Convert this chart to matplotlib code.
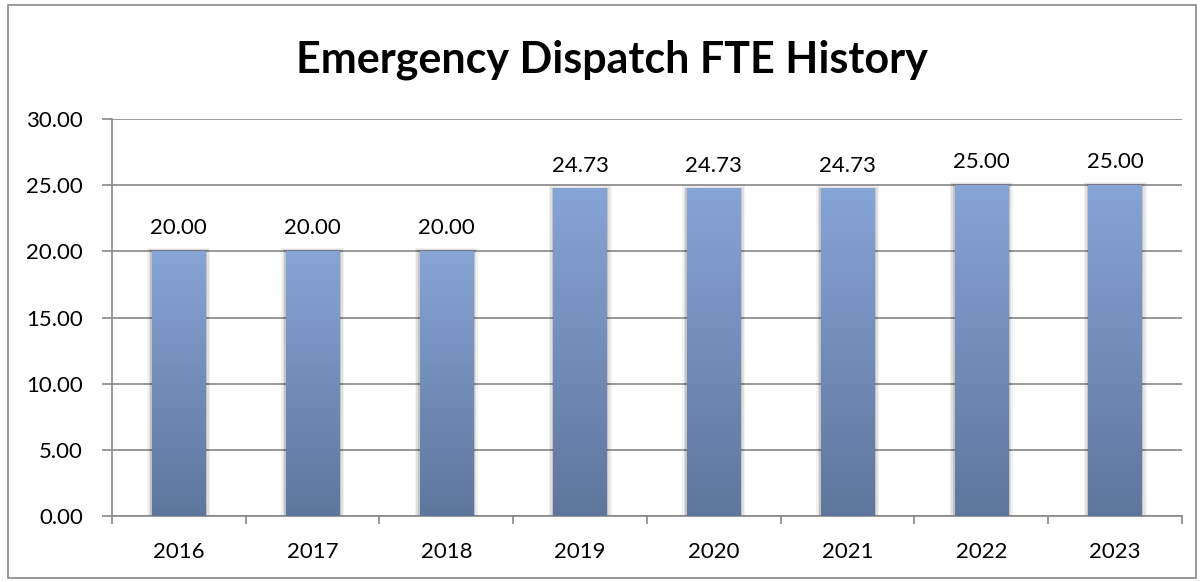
import numpy as np
import matplotlib.pyplot as plt
from matplotlib.patches import Rectangle
from matplotlib.colors import LinearSegmentedColormap

years = ['2016', '2017', '2018', '2019', '2020', '2021', '2022', '2023']
fte = [20.00, 20.00, 20.00, 24.73, 24.73, 24.73, 25.00, 25.00]

plt.rcParams['font.family'] = ['Lato', 'DejaVu Sans']

fig = plt.figure(figsize=(12.04, 5.82), dpi=100)
ax = fig.add_axes([0.093, 0.1134, 0.8887, 0.6821])

x = np.arange(len(years))
width = 0.4
bars = ax.bar(x, fte, width=width, color='none', zorder=3)

# vertical gradient fill for each bar
cmap = LinearSegmentedColormap.from_list('bar', ['#5f769c', '#87a4d7'])
grad = np.linspace(0, 1, 256).reshape(-1, 1)
for b in bars:
    x0, h = b.get_x(), b.get_height()
    # soft shadow around bar
    for i, a in enumerate([0.05, 0.08, 0.12]):
        pad = 0.012 * (3 - i)
        ax.add_patch(Rectangle((x0 - pad, 0), width + 2 * pad, h + 0.25 * (3 - i) / 3,
                               facecolor='#000000', alpha=a, edgecolor='none', zorder=2))
    ax.imshow(grad, extent=[x0, x0 + width, 0, h], origin='lower', cmap=cmap,
              aspect='auto', zorder=3)
    ax.text(b.get_x() + width / 2, h + 1.0, f'{h:.2f}', ha='center', va='bottom',
            fontsize=16, color='black', zorder=4)

ax.set_xlim(-0.5, len(years) - 0.5)
ax.set_ylim(0, 30)
ax.set_yticks(np.arange(0, 31, 5))
ax.set_yticklabels([f'{v:.2f}' for v in np.arange(0, 31, 5)])
ax.set_xticks(x)
ax.set_xticklabels(years)
ax.set_xticks(np.arange(-0.5, len(years), 1), minor=True)
ax.tick_params(axis='x', which='major', length=0, pad=19, labelsize=16)
ax.tick_params(axis='x', which='minor', length=6, color='#888888', width=1.2)
ax.tick_params(axis='y', length=7, color='#888888', width=1.2, pad=14, labelsize=16)

ax.grid(axis='y', color='#888888', linewidth=1.2, zorder=0)
ax.set_axisbelow(True)
for s in ['top', 'right']:
    ax.spines[s].set_visible(False)
for s in ['left', 'bottom']:
    ax.spines[s].set_color('#888888')
    ax.spines[s].set_linewidth(1.2)

fig.text(0.508, 0.897, 'Emergency Dispatch FTE History', ha='center', va='center',
         fontsize=31, fontweight='bold')

fig.patches.append(Rectangle((0.007, 0.007), 0.986, 0.984, transform=fig.transFigure,
                             fill=False, edgecolor='#888888', linewidth=1.2))

fig.savefig('out.png', dpi=100)
